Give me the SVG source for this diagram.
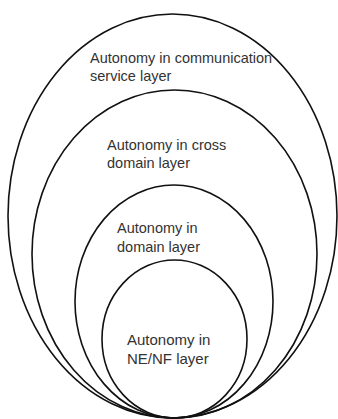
<svg xmlns="http://www.w3.org/2000/svg" width="338" height="419" viewBox="0 0 338 419">
<style>
.ring{fill:none;stroke:#111;stroke-width:1.6}
.lbl{font-family:"Liberation Sans",Arial,sans-serif;font-size:14.5px;fill:#333}
</style>
<rect width="338" height="419" fill="#fff"/>
<g id="cs-layer">
<ellipse class="ring" cx="172.5" cy="216" rx="164.5" ry="202"/>
<text class="lbl" x="90" y="63">Autonomy in communication</text>
<text class="lbl" x="90" y="81">service layer</text>
</g>
<g id="cross-domain-layer">
<ellipse class="ring" cx="174.5" cy="254" rx="142.5" ry="164"/>
<text class="lbl" x="107" y="150">Autonomy in cross</text>
<text class="lbl" x="107" y="168">domain layer</text>
</g>
<g id="domain-layer">
<ellipse class="ring" cx="174" cy="301.5" rx="99" ry="116.5"/>
<text class="lbl" x="117" y="233">Autonomy in</text>
<text class="lbl" x="117" y="252">domain layer</text>
</g>
<g id="nenf-layer">
<ellipse class="ring" cx="174.5" cy="339" rx="72.5" ry="79"/>
<text class="lbl" x="127" y="345" style="font-size:15px">Autonomy in</text>
<text class="lbl" x="127" y="364" style="font-size:15px">NE/NF layer</text>
</g>
<g id="connectors"/>
</svg>
